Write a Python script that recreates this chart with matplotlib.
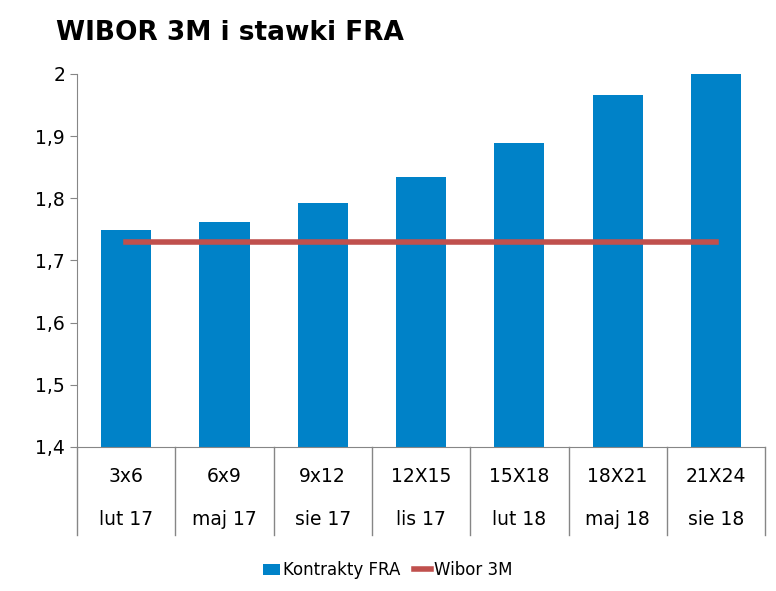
import matplotlib
matplotlib.use("Agg")
import matplotlib.pyplot as plt
import numpy as np

contracts = ["3x6", "6x9", "9x12", "12X15", "15X18", "18X21", "21X24"]
months = ["lut 17", "maj 17", "sie 17", "lis 17", "lut 18", "maj 18", "sie 18"]
fra = [1.749, 1.762, 1.792, 1.834, 1.889, 1.966, 2.0]
wibor = [1.73] * 7
ytick_labels = ["1,4", "1,5", "1,6", "1,7", "1,8", "1,9", "2"]

fig = plt.figure(figsize=(7.76, 5.91), dpi=100)
ax = fig.add_axes([0.0992, 0.2437, 0.8868, 0.6311])
x = np.arange(len(contracts))
ax.bar(x, fra, width=0.51, color="#0082C8", label="Kontrakty FRA", zorder=2)
ax.plot(x, wibor, color="#C0504D", lw=4, label="Wibor 3M", zorder=3)
ax.set_xlim(-0.5, len(x) - 0.5)
ax.set_ylim(1.4, 2.0)
ax.set_yticks(np.linspace(1.4, 2.0, 7))
ax.set_yticklabels(ytick_labels, fontsize=13.5)
ax.set_xticks([])
for s in ["top", "right"]:
    ax.spines[s].set_visible(False)
for s in ["left", "bottom"]:
    ax.spines[s].set_color("#868686")
ax.tick_params(axis="y", color="#868686", length=5)
trans = ax.get_xaxis_transform()
for i in range(len(x) + 1):
    ax.plot([i - 0.5, i - 0.5], [0, -0.235], transform=trans, color="#868686", lw=1, clip_on=False)
for i, (c, m) in enumerate(zip(contracts, months)):
    ax.text(i, -0.08, c, transform=trans, ha="center", va="center", fontsize=13.5)
    ax.text(i, -0.195, m, transform=trans, ha="center", va="center", fontsize=13.5)
fig.text(0.072, 0.945, "WIBOR 3M i stawki FRA", fontsize=19, fontweight="bold", va="center")
h, l = ax.get_legend_handles_labels()
order = [l.index("Kontrakty FRA"), l.index("Wibor 3M")]
fig.legend([h[k] for k in order], [l[k] for k in order], loc="center", bbox_to_anchor=(0.5, 0.035),
           ncol=2, frameon=False, fontsize=12, handlelength=1.0, columnspacing=0.8, handletextpad=0.2)
fig.savefig("out.png", dpi=100)
